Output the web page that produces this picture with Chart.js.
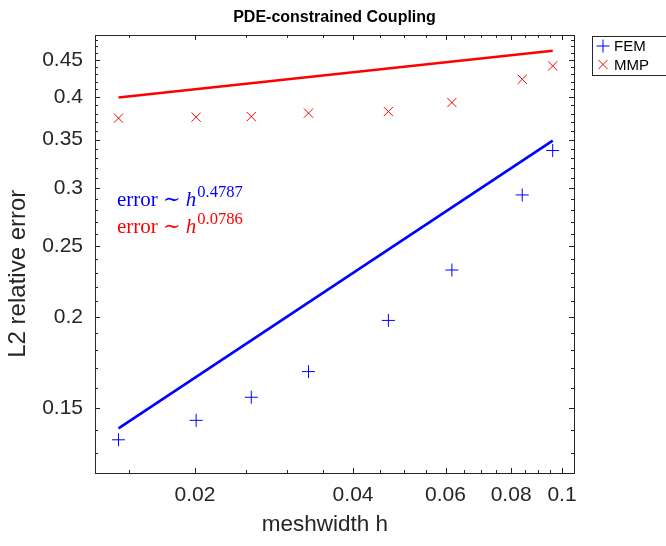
<!DOCTYPE html>
<html>
<head>
<meta charset="utf-8">
<script src="https://cdn.jsdelivr.net/npm/chart.js@4.4.1/dist/chart.umd.min.js"></script>
<style>
  html, body { margin: 0; padding: 0; background: #fff; }
  #wrap { width: 666px; height: 546px; }
</style>
</head>
<body>
<div id="wrap"><canvas id="chart"></canvas></div>
<script>
// meshwidth h and L2 relative errors
const meshwidth = [0.0143, 0.0201, 0.0256, 0.0329, 0.0467, 0.0617, 0.0840, 0.0960];
const errFEM = [0.1357, 0.1443, 0.1552, 0.1683, 0.1978, 0.2319, 0.2939, 0.3381];
const errMMP = [0.3745, 0.3757, 0.3764, 0.3805, 0.3824, 0.3934, 0.4234, 0.4416];

// fitted power laws (straight in log-log), between first and last h
const fitH = [0.0143, 0.0960];
const fitFEM = [0.1407, 0.3489];
const fitMMP = [0.3997, 0.4634];
const rateFEM = '0.4787';
const rateMMP = '0.0786';

// axis ticks: labelled ones and all tick marks
const xLabels = [0.02, 0.04, 0.06, 0.08, 0.1];
const xTicks = [0.015, 0.02, 0.025, 0.03, 0.035, 0.04, 0.045, 0.05, 0.055, 0.06,
                0.065, 0.07, 0.075, 0.08, 0.085, 0.09, 0.095, 0.1];
const yLabels = [0.15, 0.2, 0.25, 0.3, 0.35, 0.4, 0.45];
const yTicks = [0.13, 0.14, 0.15, 0.16, 0.17, 0.18, 0.19, 0.2, 0.21, 0.22, 0.23, 0.24,
                0.25, 0.26, 0.27, 0.28, 0.29, 0.3, 0.31, 0.32, 0.33, 0.34, 0.35, 0.36,
                0.37, 0.38, 0.39, 0.4, 0.41, 0.42, 0.43, 0.44, 0.45, 0.46, 0.47, 0.48];

const BLUE = '#0000ff';
const RED = '#ff0000';
const AXIS = '#262626';
const SANS = "'Liberation Sans', Arial, Helvetica, sans-serif";
const SERIF = "'Liberation Serif', 'DejaVu Serif', serif";

const pts = (xs, ys) => xs.map((x, i) => ({ x: x, y: ys[i] }));

// frame with inward ticks on all four sides, axis titles, fit labels and legend box
const decor = {
  id: 'decor',
  afterDatasetsDraw(chart) {
    const { ctx, chartArea: a, scales: { x, y } } = chart;
    ctx.save();
    ctx.strokeStyle = AXIS;
    ctx.lineWidth = 1;
    ctx.beginPath();
    xTicks.forEach(v => {
      const px = Math.round(x.getPixelForValue(v)) + 0.5;
      const len = xLabels.includes(v) ? 5 : 3;
      ctx.moveTo(px, a.bottom); ctx.lineTo(px, a.bottom - len);
      ctx.moveTo(px, a.top); ctx.lineTo(px, a.top + len);
    });
    yTicks.forEach(v => {
      const py = Math.round(y.getPixelForValue(v)) + 0.5;
      const len = yLabels.includes(v) ? 5 : 3;
      ctx.moveTo(a.left, py); ctx.lineTo(a.left + len, py);
      ctx.moveTo(a.right, py); ctx.lineTo(a.right - len, py);
    });
    ctx.stroke();
    ctx.strokeRect(Math.round(a.left) + 0.5, Math.round(a.top) + 0.5,
                   Math.round(a.right - a.left), Math.round(a.bottom - a.top));

    // axis titles (sit a bit off-centre in the original)
    ctx.fillStyle = AXIS;
    ctx.textAlign = 'center';
    ctx.textBaseline = 'middle';
    ctx.font = '22.5px ' + SANS;
    ctx.fillText('meshwidth h', a.left + (a.right - a.left) * 0.48, a.bottom + 52);
    ctx.save();
    ctx.translate(18, a.top + (a.bottom - a.top) * 0.545);
    ctx.rotate(-Math.PI / 2);
    ctx.font = '24px ' + SANS;
    ctx.fillText('L2 relative error', 0, 0);
    ctx.restore();

    // fit labels  error ~ h^p
    const fits = [[rateFEM, BLUE, 0.284], [rateMMP, RED, 0.261]];
    fits.forEach(([p, col, yv]) => {
      let tx = x.getPixelForValue(0.0142);
      const ty = y.getPixelForValue(yv);
      ctx.fillStyle = col;
      ctx.textAlign = 'left';
      ctx.textBaseline = 'alphabetic';
      ctx.font = '21px ' + SERIF;
      const head = 'error \u223C ';
      ctx.fillText(head, tx, ty);
      tx += ctx.measureText(head).width;
      ctx.font = 'italic 21px ' + SERIF;
      ctx.fillText('h', tx, ty);
      tx += ctx.measureText('h').width + 1;
      ctx.font = '16.5px ' + SERIF;
      ctx.fillText(p, tx, ty - 9);
    });

    // legend
    const lx = 592, ly = 36;
    ctx.fillStyle = '#fff';
    ctx.fillRect(lx, ly, 80, 39);
    ctx.strokeStyle = AXIS;
    ctx.strokeRect(lx + 0.5, ly + 0.5, 80, 39);
    chart.data.datasets.filter(d => d.inLegend).forEach((d, i) => {
      const cy = ly + 10 + i * 18.5;
      ctx.strokeStyle = d.borderColor;
      ctx.lineWidth = 1;
      Chart.helpers.drawPoint(ctx, { pointStyle: d.pointStyle, radius: 6.5, borderWidth: 1 }, lx + 11, cy);
      ctx.fillStyle = '#000';
      ctx.font = '15px ' + SANS;
      ctx.textBaseline = 'middle';
      ctx.fillText(d.label, lx + 22, cy + 1);
    });
    ctx.restore();
  }
};

new Chart(document.getElementById('chart'), {
  type: 'scatter',
  data: {
    datasets: [
      {
        label: 'FEM', inLegend: true, data: pts(meshwidth, errFEM),
        pointStyle: 'cross', pointRadius: 6.5, borderColor: BLUE, backgroundColor: BLUE,
        pointBorderWidth: 1, showLine: false
      },
      {
        label: 'MMP', inLegend: true, data: pts(meshwidth, errMMP),
        pointStyle: 'crossRot', pointRadius: 6.5, borderColor: RED, backgroundColor: RED,
        pointBorderWidth: 1, showLine: false
      },
      {
        label: 'FEM fit', data: pts(fitH, fitFEM), showLine: true,
        borderColor: BLUE, borderWidth: 2.6, pointRadius: 0
      },
      {
        label: 'MMP fit', data: pts(fitH, fitMMP), showLine: true,
        borderColor: RED, borderWidth: 2.6, pointRadius: 0
      }
    ]
  },
  options: {
    responsive: true,
    maintainAspectRatio: false,
    animation: false,
    layout: { padding: { top: 0, right: 92, bottom: 0, left: 0 } },
    plugins: {
      legend: { display: false },
      tooltip: { enabled: false },
      title: {
        display: true,
        fullSize: false,
        text: 'PDE-constrained Coupling',
        color: '#000',
        font: { family: SANS, size: 16, weight: 'bold' },
        padding: { top: 7.5, bottom: 8.3 }
      }
    },
    scales: {
      x: {
        type: 'logarithmic',
        min: 0.0129,
        max: 0.1054,
        afterBuildTicks: s => { s.ticks = xTicks.map(v => ({ value: v })); },
        afterFit: s => { s.height = 73; },
        grid: { display: false, drawTicks: false },
        border: { display: false },
        ticks: {
          autoSkip: false, maxRotation: 0, padding: 10,
          color: '#262626', font: { family: SANS, size: 21 },
          callback: v => xLabels.includes(v) ? String(v) : ''
        }
      },
      y: {
        type: 'logarithmic',
        min: 0.1222,
        max: 0.4869,
        afterBuildTicks: s => { s.ticks = yTicks.map(v => ({ value: v })); },
        afterFit: s => { s.width = 95; },
        grid: { display: false, drawTicks: false },
        border: { display: false },
        ticks: {
          autoSkip: false, padding: 12,
          color: '#262626', font: { family: SANS, size: 21 },
          callback: v => yLabels.includes(v) ? String(v) : ''
        }
      }
    }
  },
  plugins: [decor]
});
</script>
</body>
</html>
